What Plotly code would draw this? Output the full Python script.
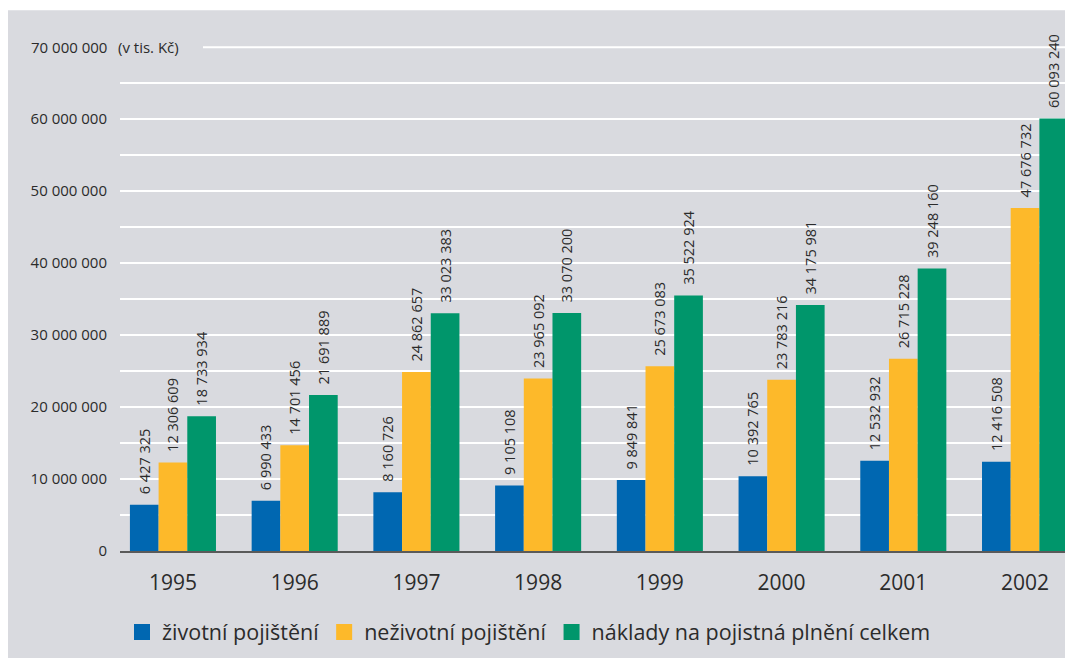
import plotly.graph_objects as go

years = ["1995", "1996", "1997", "1998", "1999", "2000", "2001", "2002"]
zivotni = [6427325, 6990433, 8160726, 9105108, 9849841, 10392765, 12532932, 12416508]
nezivotni = [12306609, 14701456, 24862657, 23965092, 25673083, 23783216, 26715228, 47676732]
celkem = [18733934, 21691889, 33023383, 33070200, 35522924, 34175981, 39248160, 60093240]

series_names = ["životní pojištění", "neživotní pojištění", "náklady na pojistná plnění celkem"]
colors = ["#0067b1", "#fdb92a", "#00966b"]

ytick_vals = [0, 10000000, 20000000, 30000000, 40000000, 50000000, 60000000]
ytick_text = ["0", "10 000 000", "20 000 000", "30 000 000", "40 000 000", "50 000 000", "60 000 000"]
minor_vals = [5000000, 15000000, 25000000, 35000000, 45000000, 55000000, 65000000]
top_label = "70 000 000"
top_val = 70000000
unit_label = "(v tis. Kč)"

FONT = "Open Sans"
TXT = "#2b2b2b"
BG = "#d9dadf"
OFF = 8  # page body margin


def fmt(v):
    return "  " + f"{v:,}".replace(",", " ")


fig = go.Figure()
for name, vals, col in zip(series_names, [zivotni, nezivotni, celkem], colors):
    fig.add_trace(go.Bar(
        x=years, y=vals, name=name, marker=dict(color=col, line=dict(width=0)),
        text=[fmt(v) for v in vals], textposition="outside", textangle=-90,
        textfont=dict(family=FONT, size=14.5, color=TXT),
        constraintext="none", cliponaxis=False, showlegend=False,
    ))
# legend entries with larger square swatches
for name, col in zip(series_names, colors):
    fig.add_trace(go.Scatter(
        x=[None], y=[None], mode="markers", name=name,
        marker=dict(symbol="square", size=16, color=col), showlegend=True,
    ))

W, H = 1065, 650
L, R, T, B = 112, 0, 39.7, 107
ymax = 69900000
plot_w = W - L - R
plot_h = H - T - B

def px_x(p):
    return (p - OFF - L) / plot_w

def px_y(p):
    return (H - B - (p - OFF)) / plot_h

fig.update_layout(
    width=W, height=H,
    margin=dict(l=L, r=R, t=T, b=B, pad=0),
    paper_bgcolor="white",
    plot_bgcolor="rgba(0,0,0,0)",
    barmode="group", bargap=0.293, bargroupgap=0,
    font=dict(family=FONT, color=TXT),
    showlegend=True,
    legend=dict(orientation="h", x=px_x(529), y=px_y(632), xanchor="center", yanchor="middle",
                font=dict(family=FONT, size=21.5, color=TXT), bgcolor="rgba(0,0,0,0)",
                itemwidth=30, traceorder="normal"),
    xaxis=dict(range=[-0.435, 7.394], showgrid=False, showline=True, linecolor="#5a5a5a",
               linewidth=2, ticks="", tickfont=dict(family=FONT, size=21, color=TXT),
               ticklabelstandoff=12, fixedrange=True),
    yaxis=dict(range=[0, ymax], tickvals=ytick_vals, ticktext=ytick_text, showgrid=True,
               gridcolor="white", gridwidth=2, zeroline=False, showline=False, ticks="",
               tickfont=dict(family=FONT, size=15, color=TXT), ticklabelstandoff=12,
               minor=dict(tickvals=minor_vals, showgrid=True, gridcolor="white", gridwidth=2),
               fixedrange=True),
    shapes=[
        dict(type="rect", xref="paper", yref="paper", x0=px_x(OFF), x1=px_x(W + OFF + 2),
             y0=px_y(H + OFF + 2), y1=px_y(10), fillcolor=BG, line=dict(width=0), layer="below"),
        dict(type="line", xref="paper", yref="paper", x0=px_x(203), x1=1,
             y0=top_val / ymax, y1=top_val / ymax, line=dict(color="white", width=2), layer="below"),
    ],
    annotations=[
        dict(text=top_label, xref="paper", yref="paper", x=px_x(109), y=top_val / ymax,
             xanchor="right", yanchor="middle", showarrow=False,
             font=dict(family=FONT, size=15, color=TXT)),
        dict(text=unit_label, xref="paper", yref="paper", x=px_x(116), y=top_val / ymax,
             xanchor="left", yanchor="middle", showarrow=False,
             font=dict(family=FONT, size=15, color=TXT)),
    ],
)

fig.write_html("out.html")
